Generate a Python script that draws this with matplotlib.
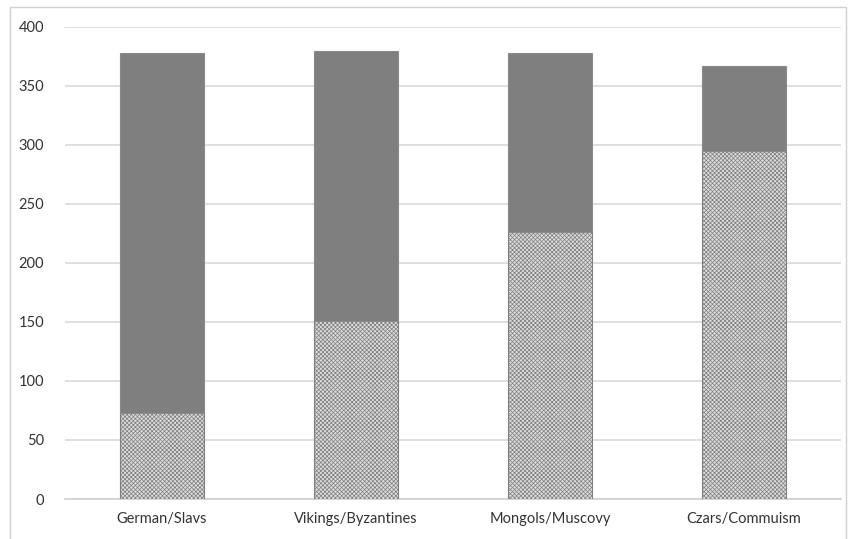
import numpy as np
import matplotlib.pyplot as plt
from matplotlib.patches import Rectangle

plt.rcParams['font.family'] = ['Lato', 'DejaVu Sans']
plt.rcParams['hatch.color'] = '#9a9a9a'
plt.rcParams['hatch.linewidth'] = 0.5

categories = ['German/Slavs', 'Vikings/Byzantines', 'Mongols/Muscovy', 'Czars/Commuism']
lower = [73, 151, 226, 295]
upper = [305, 229, 152, 72]

fig = plt.figure(figsize=(8.48, 5.39), dpi=100)
ax = fig.add_axes([0.0765, 0.0742, 0.915, 0.8758])

x = np.arange(len(categories))
ax.bar(x, lower, width=0.43, facecolor='#dcdcdc', edgecolor='#7f7f7f',
       hatch='xxxxxxxx', linewidth=0.8, zorder=3)
ax.bar(x, upper, width=0.43, bottom=lower, color='#7f7f7f',
       edgecolor='#8a8a8a', linewidth=0.8, zorder=3)

ax.set_xlim(-0.5, len(categories) - 0.5)
ax.set_ylim(0, 400)
ax.set_yticks(range(0, 401, 50))
ax.set_xticks(x)
ax.set_xticklabels(categories)
ax.yaxis.grid(True, color='#d9d9d9', linewidth=1.2, zorder=0)
ax.set_axisbelow(True)
for side in ['top', 'right', 'left']:
    ax.spines[side].set_visible(False)
ax.spines['bottom'].set_color('#d0d0d0')
ax.spines['bottom'].set_linewidth(1.2)
ax.tick_params(length=0, labelsize=10.5, colors='#333333')
ax.tick_params(axis='x', pad=9)
ax.tick_params(axis='y', pad=15)

# outer chart frame
fig.patches.append(Rectangle((10 / 848, -0.05), 836 / 848, 1.037,
                             transform=fig.transFigure, fill=False,
                             edgecolor='#d0d0d0', linewidth=1.0))

fig.savefig('out.png', dpi=100)
